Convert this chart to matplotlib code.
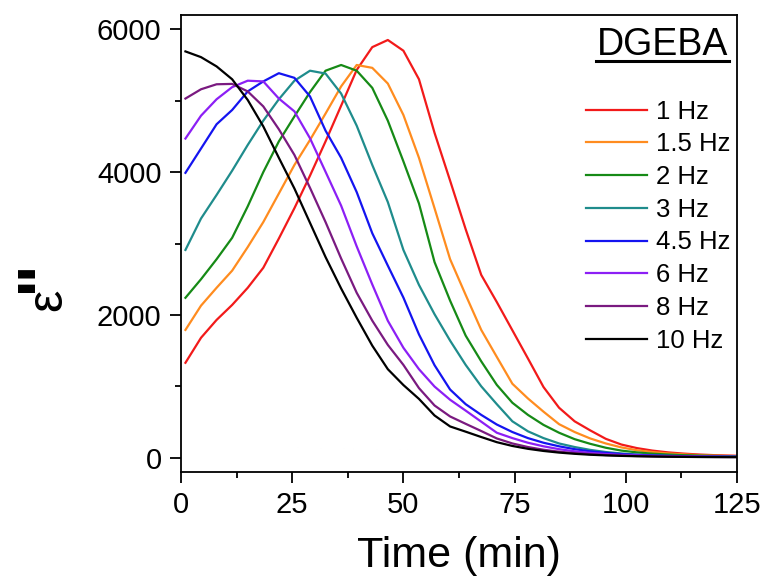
import matplotlib
matplotlib.use("Agg")
import matplotlib.pyplot as plt
from matplotlib.lines import Line2D
from matplotlib.ticker import MultipleLocator

plt.rcParams['font.family'] = ['Liberation Sans', 'DejaVu Sans']

time_min = [1, 4.5, 8, 11.5, 15, 18.5, 22, 25.5, 29, 32.5, 36, 39.5, 43, 46.5, 50,
            53.5, 57, 60.5, 64, 67.5, 71, 74.5, 78, 81.5, 85, 88.5, 92, 95.5, 99,
            102.5, 106, 109.5, 113, 116.5, 120, 123.5, 125]

eps_1hz = [1330, 1680, 1930, 2140, 2380, 2660, 3070, 3495, 3950, 4430, 4930, 5430, 5750, 5850, 5700,
           5300, 4550, 3880, 3200, 2560, 2180, 1785, 1390, 990, 700, 510, 383, 265, 185,
           135, 100, 75, 58, 45, 36, 30, 28]
eps_1p5hz = [1790, 2130, 2380, 2620, 2950, 3300, 3700, 4100, 4450, 4820, 5200, 5500, 5460, 5240, 4800,
             4200, 3494, 2780, 2280, 1790, 1412, 1036, 830, 645, 470, 360, 270, 200, 145,
             105, 80, 60, 47, 37, 30, 25, 22]
eps_2hz = [2240, 2500, 2780, 3080, 3520, 4000, 4430, 4780, 5120, 5420, 5500, 5420, 5180, 4720, 4150,
           3560, 2740, 2200, 1710, 1350, 1020, 770, 600, 460, 350, 260, 195, 140, 100,
           75, 57, 45, 36, 30, 25, 22, 20]
eps_3hz = [2910, 3350, 3680, 4020, 4380, 4720, 5020, 5280, 5420, 5380, 5100, 4650, 4100, 3580, 2910,
           2420, 2010, 1640, 1300, 1000, 750, 510, 370, 275, 200, 150, 110, 80, 60,
           45, 35, 28, 24, 20, 18, 16, 15]
eps_4p5hz = [3990, 4330, 4670, 4870, 5130, 5270, 5385, 5320, 5060, 4580, 4200, 3720, 3144, 2690, 2243,
             1727, 1296, 955, 750, 600, 465, 360, 275, 210, 160, 120, 90, 68, 52,
             40, 32, 26, 22, 18, 16, 14, 13]
eps_6hz = [4470, 4790, 5020, 5190, 5280, 5270, 5030, 4850, 4474, 4004, 3530, 2960, 2427, 1918, 1540,
           1240, 997, 812, 660, 505, 350, 275, 210, 160, 120, 90, 68, 52, 40,
           32, 26, 22, 18, 16, 14, 12, 12]
eps_8hz = [5030, 5160, 5230, 5235, 5130, 4920, 4600, 4240, 3780, 3300, 2790, 2310, 1920, 1580, 1300,
           975, 732, 578, 475, 374, 270, 200, 150, 112, 85, 65, 50, 38, 30,
           24, 20, 16, 14, 12, 11, 10, 10]
eps_10hz = [5690, 5610, 5480, 5300, 5010, 4640, 4200, 3770, 3290, 2810, 2370, 1960, 1570, 1240, 1018,
            824, 592, 438, 365, 290, 218, 165, 125, 95, 72, 55, 42, 33, 26,
            21, 17, 14, 12, 10, 9, 8, 8]

labels = ['1 Hz', '1.5 Hz', '2 Hz', '3 Hz', '4.5 Hz', '6 Hz', '8 Hz', '10 Hz']
series = [eps_1hz, eps_1p5hz, eps_2hz, eps_3hz, eps_4p5hz, eps_6hz, eps_8hz, eps_10hz]
colors = ['#f21a1a', '#ff8c1f', '#168a16', '#1f8c8c', '#1414f0', '#8c1ff5', '#7a1a80', '#000000']

fig = plt.figure(figsize=(7.65, 5.86), dpi=100)
ax = fig.add_axes([0.2366, 0.1945, 0.7268, 0.7799])

for y, c, lab in zip(series, colors, labels):
    ax.plot(time_min, y, color=c, lw=1.6, label=lab)

ax.set_xlim(0, 125)
ax.set_ylim(-200, 6200)
ax.xaxis.set_major_locator(MultipleLocator(25))
ax.xaxis.set_minor_locator(MultipleLocator(12.5))
ax.yaxis.set_major_locator(MultipleLocator(2000))
ax.yaxis.set_minor_locator(MultipleLocator(1000))
ax.tick_params(which='both', direction='out', top=False, right=False, width=1.3)
ax.tick_params(which='major', length=8, labelsize=21, pad=6)
ax.tick_params(which='minor', length=4.5)
for s in ax.spines.values():
    s.set_linewidth(1.3)

ax.set_xlabel('Time (min)', fontsize=31, labelpad=12)

# y-axis label: epsilon double prime
fig.text(48 / 765, 1 - 300 / 586, 'ε', rotation=90, ha='center', va='center', fontsize=36)
fig.text(61 / 765, 1 - 276 / 586, '"', rotation=90, rotation_mode='anchor',
         ha='center', va='baseline', fontsize=50, fontweight='bold')

leg = ax.legend(loc='upper left', bbox_to_anchor=(0.728, 0.815), frameon=False,
                fontsize=18.5, handlelength=2.4, handletextpad=0.35,
                labelspacing=0.34, borderpad=0, borderaxespad=0)

ax.text(0.985, 0.9125, 'DGEBA', transform=ax.transAxes, ha='right', va='baseline', fontsize=27)
ax.add_line(Line2D([0.746, 0.985], [0.9, 0.9], transform=ax.transAxes, color='black', lw=2.2))

fig.savefig('out.png', dpi=100)
